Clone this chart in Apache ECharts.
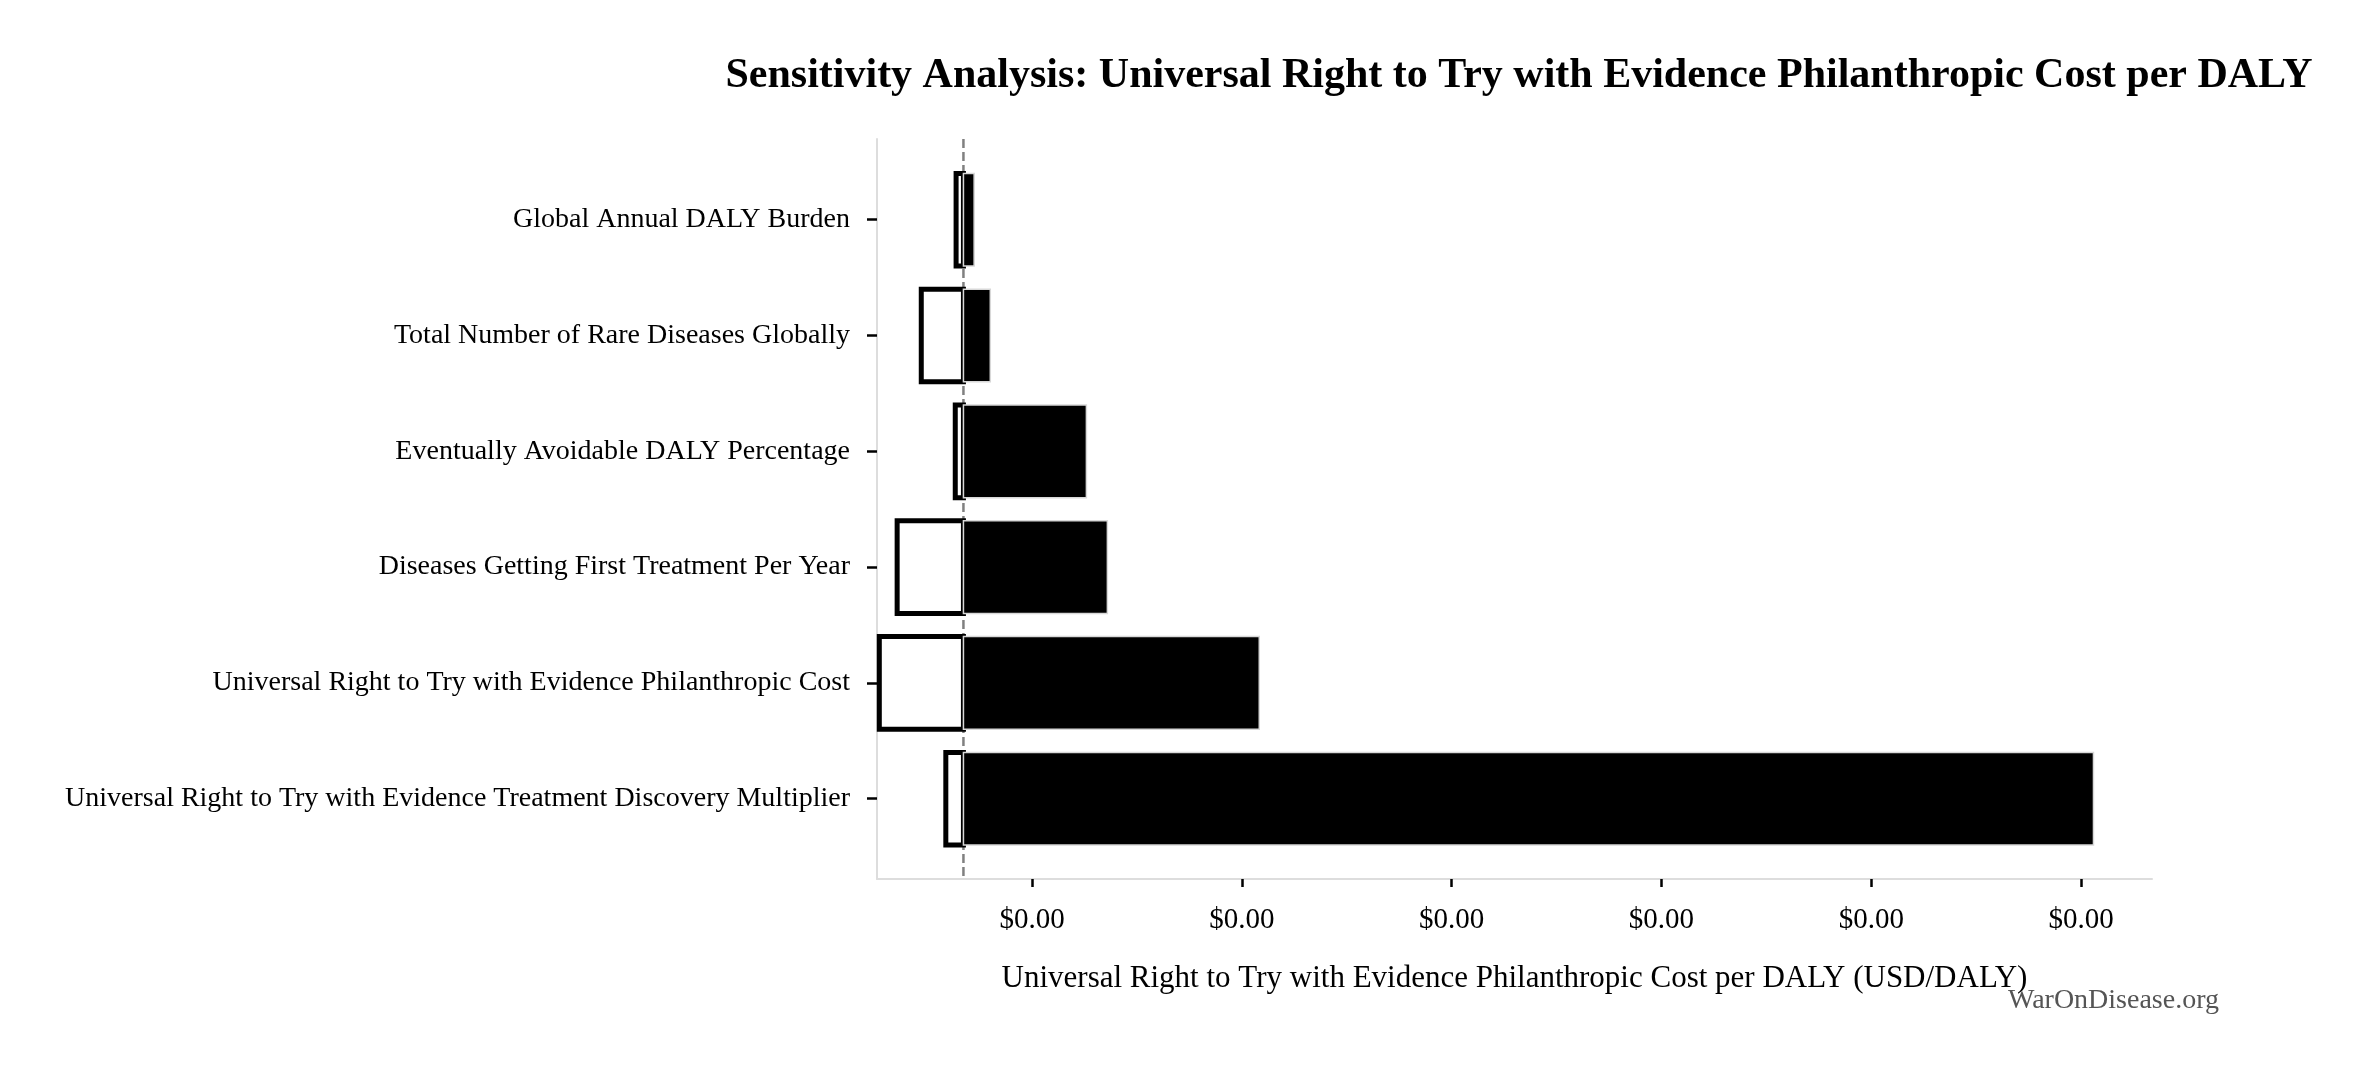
<!DOCTYPE html>
<html>
<head>
<meta charset="utf-8">
<script src="https://cdn.jsdelivr.net/npm/echarts@6/dist/echarts.min.js"></script>
<style>
html,body{margin:0;padding:0;background:#fff;}
#chart{width:2362px;height:1071px;}
</style>
</head>
<body>
<div id="chart"></div>
<script>
const categories = [
  "Global Annual DALY Burden",
  "Total Number of Rare Diseases Globally",
  "Eventually Avoidable DALY Percentage",
  "Diseases Getting First Treatment Per Year",
  "Universal Right to Try with Evidence Philanthropic Cost",
  "Universal Right to Try with Evidence Treatment Discovery Multiplier"
];
const baseline = 0.0000673;
const lowValues = [0.0000638, 0.0000472, 0.0000634, 0.0000357, 0.0000272, 0.0000589];
const highValues = [0.0000724, 0.0000801, 0.0001259, 0.0001359, 0.0002083, 0.0006059];
const tickValues = [0.0001, 0.0002, 0.0003, 0.0004, 0.0005, 0.0006];
const categoryIndex = [0, 1, 2, 3, 4, 5];

const FONT = "'Liberation Serif', 'DejaVu Serif', serif";
const chart = echarts.init(document.getElementById('chart'));

function rectItem(params, api, fillColor, strokeColor, lw) {
  const v = api.value(0);
  const idx = api.value(1);
  const p1 = api.coord([v, idx]);
  const p2 = api.coord([baseline, idx]);
  const h = api.size([0, 0.8])[1];
  return {
    type: 'rect',
    shape: { x: Math.min(p1[0], p2[0]), y: p1[1] - h / 2, width: Math.abs(p2[0] - p1[0]), height: h },
    style: { fill: fillColor, stroke: strokeColor, lineWidth: lw }
  };
}

const lowData = lowValues.map((v, i) => [v, categoryIndex[i]]);
const highData = highValues.map((v, i) => [v, categoryIndex[i]]);

chart.setOption({
  animation: false,
  backgroundColor: '#ffffff',
  title: {
    text: 'Sensitivity Analysis: Universal Right to Try with Evidence Philanthropic Cost per DALY',
    left: 1514,
    top: 50,
    textAlign: 'center',
    textStyle: { fontFamily: FONT, fontSize: 42, fontWeight: 'bold', color: '#000' }
  },
  graphic: [{
    type: 'text',
    x: 2219, y: 1001,
    style: { text: 'WarOnDisease.org', fill: '#555', font: "28px 'Liberation Serif', serif", textAlign: 'right', textVerticalAlign: 'middle' },
    z: 10
  }],
  grid: { left: 877, right: 210, top: 139, bottom: 192, containLabel: false },
  xAxis: {
    type: 'value',
    min: 0.0000261,
    max: 0.0006338,
    name: 'Universal Right to Try with Evidence Philanthropic Cost per DALY (USD/DALY)',
    nameLocation: 'middle',
    nameGap: 84,
    nameTextStyle: { fontFamily: FONT, fontSize: 31, color: '#000' },
    axisLine: { show: true, onZero: false, lineStyle: { color: '#dddddd', width: 2 } },
    axisTick: { show: true, customValues: tickValues, length: 8, lineStyle: { color: '#000', width: 2.5 } },
    axisLabel: { customValues: tickValues, margin: 27, fontFamily: FONT, fontSize: 29, color: '#000',
      formatter: v => '$' + v.toFixed(2) },
    splitLine: { show: false }
  },
  yAxis: {
    type: 'value',
    inverse: true,
    min: -0.697,
    max: 5.693,
    axisLine: { show: true, onZero: false, lineStyle: { color: '#dddddd', width: 2 } },
    axisTick: { show: true, customValues: categoryIndex, length: 10, lineStyle: { color: '#000', width: 2.5 } },
    axisLabel: { customValues: categoryIndex, margin: 27, fontFamily: FONT, fontSize: 28, color: '#000',
      formatter: v => categories[Math.round(v)] },
    splitLine: { show: false }
  },
  series: [
    {
      type: 'line',
      data: [[baseline, -0.697], [baseline, 5.693]],
      symbol: 'none',
      lineStyle: { color: '#808080', width: 2.5, type: [9, 4] },
      z: 1,
      silent: true
    },
    {
      type: 'custom',
      data: lowData,
      renderItem: (params, api) => rectItem(params, api, '#ffffff', '#000000', 5),
      clip: false,
      z: 2
    },
    {
      type: 'custom',
      data: highData,
      renderItem: (params, api) => rectItem(params, api, '#000000', '#d8d8d8', 1.5),
      clip: false,
      z: 3
    }
  ]
});
</script>
</body>
</html>
